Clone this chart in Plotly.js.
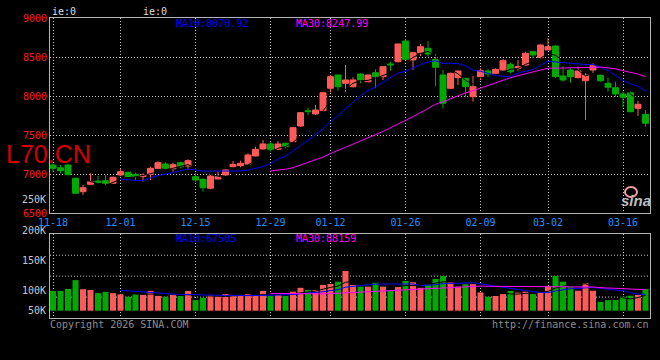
<!DOCTYPE html>
<html>
<head>
<meta charset="utf-8">
<script src="https://cdn.plot.ly/plotly-3.0.1.min.js"></script>
<style>html,body{margin:0;padding:0;background:#000;}#chart{width:660px;height:360px;}</style>
</head>
<body>
<div id="chart"></div>
<script>
// ---- data ----
const dates = ['11-18','11-19','11-20','11-21','11-24','11-25','11-26','11-27','11-28',
  '12-01','12-02','12-03','12-04','12-05','12-08','12-09','12-10','12-11','12-12',
  '12-15','12-16','12-17','12-18','12-19','12-22','12-23','12-24','12-25','12-26',
  '12-29','12-30','12-31',
  '01-05','01-06','01-07','01-08','01-09','01-12','01-13','01-14','01-15','01-16',
  '01-19','01-20','01-21','01-22','01-23','01-26','01-27','01-28','01-29','01-30',
  '02-02','02-03','02-04','02-05','02-06','02-09','02-10','02-11','02-12','02-13',
  '02-24','02-25','02-26','02-27',
  '03-02','03-03','03-04','03-05','03-06','03-09','03-10','03-11','03-12','03-13',
  '03-16','03-17','03-18','03-19'];

const open = [7115,7081,7115,6945,6773,6868,6910,6914,6881,6987,
  7022,6996,6966,6996,7073,7128,7068,7145,7103,6966,
  6932,6817,6936,6987,7094,7107,7128,7231,7321,7385,
  7317,7394,7414,7615,7810,7770,7812,8099,8269,8163,
  8119,8282,8183,8299,8248,8410,8440,8705,8462,8555,
  8611,8470,8269,8099,8235,8227,7991,8248,8321,8291,
  8333,8406,8355,8397,8568,8491,8590,8641,8256,8333,
  8235,8196,8333,8269,8163,8106,8026,8042,7842,7765];

const high = [7137,7115,7128,6953,6859,7009,6974,6987,6968,7060,
  7026,7017,7009,7094,7163,7150,7145,7158,7189,7009,
  6945,6987,7030,7060,7167,7171,7265,7350,7436,7406,
  7423,7400,7603,7795,7850,7885,8050,8269,8275,8397,
  8240,8290,8275,8342,8380,8440,8670,8727,8560,8667,
  8705,8538,8333,8300,8321,8230,8256,8355,8342,8355,
  8474,8430,8461,8568,8575,8660,8740,8650,8380,8355,
  8376,8291,8419,8275,8235,8183,8055,8055,7936,7820];

const low = [7030,7009,6985,6744,6731,6859,6872,6859,6872,6974,
  6962,6923,6901,6923,7064,7060,7030,7073,7051,6901,
  6773,6804,6932,6974,7086,7086,7115,7225,7315,7286,
  7310,7330,7410,7603,7755,7755,7805,8047,8068,8055,
  8109,8163,8175,8099,8205,8324,8430,8460,8333,8513,
  8504,8128,7842,8090,8141,7990,7927,8205,8235,8280,
  8324,8290,8324,8389,8483,8475,8590,8231,8185,8170,
  8227,7692,8291,8183,8055,7991,7850,7790,7744,7606];

const close = [7073,7042,6991,6753,6824,6901,6895,6881,6958,7030,
  6966,6966,6987,7073,7145,7073,7119,7094,7171,6923,
  6824,6974,6966,7052,7124,7137,7244,7317,7385,7317,
  7385,7350,7594,7786,7800,7820,8042,8248,8119,8205,
  8205,8205,8269,8248,8376,8400,8667,8470,8555,8632,
  8538,8368,7906,8291,8321,8119,8119,8324,8282,8342,
  8453,8312,8376,8547,8526,8654,8632,8248,8205,8248,
  8321,8269,8389,8196,8112,8026,7983,7799,7894,7650];

const volume = [82000,82000,90000,127000,89000,86000,73000,78000,73000,68000,
  58000,69000,69000,82000,61000,58000,69000,61000,82000,44000,
  54000,65000,61000,69000,61000,61000,69000,65000,82000,61000,
  65000,61000,79000,95000,86000,86000,107000,111000,120000,165000,
  107000,100000,100000,118000,100000,82000,100000,123000,118000,95000,
  110000,132000,144000,118000,100000,110000,110000,76000,58000,61000,
  69000,82000,75000,79000,69000,76000,103000,144000,120000,97000,
  83000,114000,83000,37000,44000,44000,58000,62000,65000,90000];

const tickDates = ['11-18','12-01','12-15','12-29','01-12','01-26','02-09','03-02','03-16'];
const priceTicks = [6500,7000,7500,8000,8500,9000];
const volTickText = ['200K','150K','100K','50K'];
const symbol = 'L70.CN';
const priceMA10Text = 'MA10:8070.92';
const priceMA30Text = 'MA30:8247.99';
const volMA10Text = 'MA10:67505';
const volMA30Text = 'MA30:88159';
const strayLabel = '250K';
const copyrightText = 'Copyright 2026 SINA.COM';
const urlText = 'http://finance.sina.com.cn';

// ---- derived ----
const xs = dates.map((d, i) => i);
const tickVals = tickDates.map(d => dates.indexOf(d));
function movingAvg(arr, n) {
  return arr.map((v, i) => {
    if (i < n - 1) return null;
    let s = 0;
    for (let k = i - n + 1; k <= i; k++) s += arr[k];
    return s / n;
  });
}
const UP = '#ff5a5a', DOWN = '#00a800';
const volColors = close.map((c, i) => c >= open[i] ? UP : DOWN);

const mono = 'DejaVu Sans Mono, monospace';
const gridC = '#c8c8c8';
const boxC = '#b4b4b4';

const traces = [
  {type: 'candlestick', x: xs, open: open, high: high, low: low, close: close,
   xaxis: 'x', yaxis: 'y', whiskerwidth: 0,
   increasing: {line: {color: UP, width: 1}, fillcolor: UP},
   decreasing: {line: {color: DOWN, width: 1}, fillcolor: DOWN},
   hoverinfo: 'skip'},
  {type: 'scatter', mode: 'lines', x: xs, y: movingAvg(close, 5), xaxis: 'x', yaxis: 'y',
   line: {color: '#000000', width: 1}, hoverinfo: 'skip'},
  {type: 'scatter', mode: 'lines', x: xs, y: movingAvg(close, 10), xaxis: 'x', yaxis: 'y',
   line: {color: '#0000ff', width: 1}, hoverinfo: 'skip'},
  {type: 'scatter', mode: 'lines', x: xs, y: movingAvg(close, 30), xaxis: 'x', yaxis: 'y',
   line: {color: '#ff00ff', width: 1}, hoverinfo: 'skip'},
  {type: 'bar', x: xs, y: volume, xaxis: 'x2', yaxis: 'y2',
   marker: {color: volColors, line: {width: 0}}, hoverinfo: 'skip'},
  {type: 'scatter', mode: 'lines', x: xs, y: movingAvg(volume, 5), xaxis: 'x2', yaxis: 'y2',
   line: {color: '#000000', width: 1}, hoverinfo: 'skip'},
  {type: 'scatter', mode: 'lines', x: xs, y: movingAvg(volume, 10), xaxis: 'x2', yaxis: 'y2',
   line: {color: '#0000ff', width: 1}, hoverinfo: 'skip'},
  {type: 'scatter', mode: 'lines', x: xs, y: movingAvg(volume, 30), xaxis: 'x2', yaxis: 'y2',
   line: {color: '#ff00ff', width: 1}, hoverinfo: 'skip'}
];

// pixel helpers for text placement (plot area: x 50..650, y 18..318)
const px = v => (v - 50) / 600;
const py = v => (318 - v) / 300;

function ann(text, x, y, color, xanchor, size, extra) {
  return Object.assign({text: text, x: px(x), y: py(y), xref: 'paper', yref: 'paper',
    xanchor: xanchor, yanchor: 'middle', showarrow: false, borderpad: 0,
    font: {family: mono, size: size || 10, color: color}}, extra || {});
}

const volLabelY = [230.5, 260.3, 290.3, 310.3];
const annotations = [
  ann('ie:0', 51, 12, '#dddddd', 'left', 10),
  ann('ie:0', 142, 12, '#dddddd', 'left', 10),
  ann(priceMA10Text, 175, 23.5, '#0000ff', 'left', 10),
  ann(priceMA30Text, 295, 23.5, '#ff00ff', 'left', 10),
  ann(volMA10Text, 175, 238.7, '#0000ff', 'left', 10),
  ann(volMA30Text, 295, 238.7, '#ff00ff', 'left', 10),
  ann(symbol, 5, 154, '#d40000', 'left', 25, {font: {family: 'Liberation Sans, Arial, sans-serif', size: 25, color: '#d40000'}}),
  ann(strayLabel, 47, 199.7, '#c8c8c8', 'right', 10),
  ann(copyrightText, 49, 324, '#8c8c8c', 'left', 10),
  ann(urlText, 650, 324, '#8c8c8c', 'right', 10),
  ann('sina', 636, 200, '#bdbdbd', 'center', 15, {font: {family: 'Liberation Sans, Arial, sans-serif', size: 15, color: '#bdbdbd'}, text: '<b><i>sina</i></b>'})
].concat(volTickText.map((t, i) => ann(t, 47, volLabelY[i], '#c8c8c8', 'right', 10)));

const shapes = [0.25, 0.5, 0.75].map(f => ({
  type: 'line', xref: 'x2 domain', yref: 'y2 domain', x0: 0, x1: 1, y0: f, y1: f,
  line: {color: gridC, width: 1, dash: '1px,2px'}, layer: 'below'
}));
shapes.push({type: 'circle', xref: 'paper', yref: 'paper',
  x0: px(625), x1: px(637), y0: py(197), y1: py(187),
  line: {color: '#f0a0a0', width: 2}, fillcolor: 'rgba(0,0,0,0)'});

const layout = {
  width: 660, height: 360,
  margin: {l: 50, r: 10, t: 18, b: 42},
  paper_bgcolor: '#000000', plot_bgcolor: '#000000',
  showlegend: false, hovermode: false,
  boxgap: 0.2, boxgroupgap: 0, bargap: 0.2,
  xaxis: {domain: [0, 1], anchor: 'y', range: [-0.4, 79.6], type: 'linear',
    tickvals: tickVals, ticktext: tickDates, ticks: '', ticklabeloverflow: 'allow',
    tickfont: {family: mono, size: 10, color: '#1e90ff'},
    showgrid: true, gridcolor: gridC, griddash: '1px,2px', gridwidth: 1,
    zeroline: false, showline: true, linecolor: boxC, linewidth: 1, mirror: true,
    rangeslider: {visible: false}, fixedrange: true},
  yaxis: {domain: [0.35, 1], anchor: 'x', range: [6500, 9000],
    tickvals: priceTicks, ticks: '',
    tickfont: {family: mono, size: 10, color: '#ff1a1a'},
    showgrid: true, gridcolor: gridC, griddash: '1px,2px', gridwidth: 1,
    zeroline: false, showline: true, linecolor: boxC, linewidth: 1, mirror: true, fixedrange: true},
  xaxis2: {domain: [0, 1], anchor: 'y2', matches: 'x', type: 'linear', range: [-0.4, 79.6],
    tickvals: tickVals, showticklabels: false, ticks: '',
    showgrid: true, gridcolor: gridC, griddash: '1px,2px', gridwidth: 1,
    zeroline: false, showline: true, linecolor: boxC, linewidth: 1, mirror: true, fixedrange: true},
  yaxis2: {domain: [0, 0.279], anchor: 'x2', range: [-30300, 317060],
    showticklabels: false, ticks: '', showgrid: false,
    zeroline: false, showline: true, linecolor: boxC, linewidth: 1, mirror: true, fixedrange: true},
  annotations: annotations,
  shapes: shapes
};

Plotly.newPlot('chart', traces, layout, {displayModeBar: false, staticPlot: true});
</script>
</body>
</html>
